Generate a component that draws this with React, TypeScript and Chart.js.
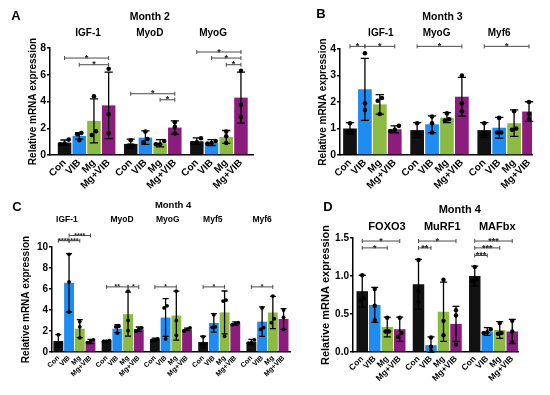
import React, { useEffect, useRef } from 'react';
import { Chart, registerables } from 'chart.js';
Chart.register(...registerables);

const GROUPS = ['Con', 'VIB', 'Mg', 'Mg+VIB'];
const COLORS = ['#121212', '#1F8CF2', '#8DBA42', '#8C1D7E'];
const FONT = '"Liberation Sans", Arial, sans-serif';
const Y_TITLE = 'Relative mRNA expression';

// ---- Panel A: Month 2 ----
const A_GENES = ['IGF-1', 'MyoD', 'MyoG'];
const A_MEANS = [[0.93, 1.43, 2.55, 3.71], [0.83, 1.3, 0.88, 2.05], [1.03, 0.93, 1.35, 4.29]];
const A_SD = [[0.19, 0.25, 1.65, 2.49], [0.35, 0.5, 0.27, 0.5], [0.25, 0.22, 0.48, 1.9]];
const A_POINTS = [
  [[1.15, 0.85, 0.8], [1.65, 1.1, 1.55], [4.38, 1.5, 1.78], [6.45, 3.05, 1.63]],
  [[1.1, 0.7, 0.7], [1.75, 0.95, 1.2], [1.05, 0.8, 0.8], [2.45, 2.1, 1.6]],
  [[1.25, 0.95, 0.9], [1.05, 0.9, 0.85], [1.75, 0.9, 1.4], [6.3, 3.75, 2.83]],
];
const A_SIG: [number, number, number, number, string][] = [
  [0, 0, 3, 7.25, '*'], [0, 1, 3, 6.75, '*'],
  [1, 0, 3, 4.58, '*'], [1, 2, 3, 4.13, '*'],
  [2, 0, 3, 7.7, '*'], [2, 1, 3, 7.25, '*'], [2, 2, 3, 6.75, '*'],
];

// ---- Panel B: Month 3 ----
const B_GENES = ['IGF-1', 'MyoG', 'Myf6'];
const B_MEANS = [[1.0, 2.48, 1.91, 0.97], [0.94, 1.16, 1.41, 2.2], [0.94, 1.03, 1.2, 1.64]];
const B_SD = [[0.22, 1.17, 0.37, 0.13], [0.28, 0.32, 0.19, 0.73], [0.28, 0.39, 0.5, 0.37]];
const B_POINTS = [
  [[1.2, 0.9, 0.9], [3.84, 1.95, 1.7], [2.15, 2.05, 1.55], [1.1, 0.95, 0.9]],
  [[1.2, 0.8, 0.8], [1.45, 0.85, 1.2], [1.57, 1.3, 1.35], [3.0, 1.95, 1.65]],
  [[1.2, 0.8, 0.8], [1.4, 0.85, 0.85], [1.65, 0.95, 1.0], [2.0, 1.55, 1.35]],
];
const B_SIG: [number, number, number, number, string][] = [
  [0, 0, 1, 4.1, '*'], [0, 1, 3, 4.1, '*'], [1, 0, 3, 4.1, '*'], [2, 0, 3, 4.1, '*'],
];

// ---- Panel C: Month 4 ----
const C_GENES = ['IGF-1', 'MyoD', 'MyoG', 'Myf5', 'Myf6'];
const C_MEANS = [
  [1.05, 6.59, 2.22, 1.0], [1.05, 2.22, 3.61, 2.16], [1.17, 3.28, 3.47, 2.16],
  [0.95, 2.77, 3.77, 2.7], [0.95, 2.89, 3.76, 3.15],
];
const C_SD = [
  [0.6, 2.78, 0.86, 0.2], [0.05, 0.38, 2.1, 0.22], [0.16, 1.8, 2.33, 0.12],
  [0.55, 0.88, 2.04, 0.16], [0.25, 1.4, 1.54, 0.99],
];
const C_POINTS = [
  [[1.65, 0.8, 0.7], [9.3, 6.67, 3.8], [2.9, 2.4, 1.35], [1.15, 1.0, 0.9]],
  [[1.08, 1.0, 1.02], [2.45, 2.4, 1.8], [5.8, 3.0, 2.03], [2.3, 2.15, 2.0]],
  [[1.25, 1.15, 1.1], [4.4, 4.2, 1.25], [5.8, 3.0, 1.59], [2.3, 2.15, 2.0]],
  [[1.45, 0.7, 0.7], [3.55, 2.4, 2.35], [4.95, 4.85, 1.5], [2.8, 2.7, 2.6]],
  [[1.15, 0.9, 0.85], [4.2, 2.32, 2.15], [5.33, 3.17, 2.79], [4.0, 3.3, 2.15]],
];
const C_SIG: [number, number, number, number, string][] = [
  [0, 0, 1, 10.6, '****'], [0, 1, 2, 10.6, '***'], [0, 1, 3, 11.1, '****'],
  [1, 0, 2, 6.2, '**'], [1, 2, 3, 6.2, '*'],
  [2, 0, 2, 6.2, '*'], [3, 0, 2, 6.2, '*'], [4, 0, 2, 6.2, '*'],
];

// ---- Panel D: Month 4 (atrophy genes) ----
const D_GENES = ['FOXO3', 'MuRF1', 'MAFbx'];
const D_MEANS = [[0.8, 0.62, 0.33, 0.3], [0.89, 0.09, 0.53, 0.37], [1.0, 0.27, 0.29, 0.27]];
const D_SD = [[0.21, 0.23, 0.13, 0.16], [0.33, 0.11, 0.39, 0.23], [0.13, 0.05, 0.11, 0.16]];
const D_POINTS = [
  [[1.01, 0.7, 0.68], [0.83, 0.42, 0.61], [0.45, 0.27, 0.27], [0.45, 0.25, 0.2]],
  [[1.21, 0.8, 0.66], [0.19, 0.07, 0.01], [0.95, 0.41, 0.22], [0.55, 0.48, 0.1]],
  [[1.12, 0.95, 0.93], [0.3, 0.26, 0.25], [0.38, 0.25, 0.24], [0.41, 0.27, 0.13]],
];
const D_SIG: [number, number, number, number, string][] = [
  [0, 0, 3, 1.46, '*'], [0, 0, 2, 1.37, '*'],
  [1, 0, 1, 1.37, '**'], [1, 0, 3, 1.46, '*'],
  [2, 0, 3, 1.46, '***'], [2, 0, 2, 1.37, '***'], [2, 0, 1, 1.27, '***'],
];

const PANELS = [
  {
    letter: 'A', title: 'Month 2', genes: A_GENES, means: A_MEANS, sd: A_SD, points: A_POINTS, sig: A_SIG,
    yMax: 8, yStep: 2, dec: 0,
    box: { left: 0, top: 0, w: 275, h: 195 }, pad: { l: 27, r: 22, t: 48 }, yW: 23, xH: 40,
    xMin: -0.99, xMax: 12.82, letterXY: [16, 16], titleXY: [5.8, 17], geneY: 33, geneX: [1.6, 5.8, 10.1],
    f: { tick: 10.5, xtick: 10, title: 10.5, gene: 10, ytitle: 10, star: 9 }, ptR: 2.3,
  },
  {
    letter: 'B', title: 'Month 3', genes: B_GENES, means: B_MEANS, sd: B_SD, points: B_POINTS, sig: B_SIG,
    yMax: 4, yStep: 1, dec: 0,
    box: { left: 275, top: 0, w: 275, h: 195 }, pad: { l: 42, r: 18, t: 49 }, yW: 23, xH: 40,
    xMin: -0.67, xMax: 12.2, letterXY: [46, 14], titleXY: [6.2, 17], geneY: 33, geneX: [2.07, 5.8, 10.0],
    f: { tick: 10.5, xtick: 10, title: 10.5, gene: 10, ytitle: 10, star: 9 }, ptR: 2.3,
  },
  {
    letter: 'C', title: 'Month 4', genes: C_GENES, means: C_MEANS, sd: C_SD, points: C_POINTS, sig: C_SIG,
    yMax: 10, yStep: 2, dec: 0,
    box: { left: 0, top: 195, w: 300, h: 200 }, pad: { l: 20, r: 10, t: 52 }, yW: 32, xH: 43,
    xMin: -0.59, xMax: 21.6, letterXY: [17, 12], titleXY: [10.7, 10], geneY: 25, geneX: [0.8, 5.94, 10.2, 14.4, 19.0],
    f: { tick: 10, xtick: 7, title: 9.5, gene: 8.5, ytitle: 10, star: 7 }, ptR: 1.9,
  },
  {
    letter: 'D', title: 'Month 4', genes: D_GENES, means: D_MEANS, sd: D_SD, points: D_POINTS, sig: D_SIG,
    yMax: 1.5, yStep: 0.5, dec: 1,
    box: { left: 300, top: 195, w: 250, h: 200 }, pad: { l: 19, r: 32, t: 43 }, yW: 34, xH: 43,
    xMin: -0.74, xMax: 12.46, letterXY: [28, 12], titleXY: [7.8, 15], geneY: 32, geneX: [1.98, 6.4, 10.8],
    f: { tick: 10, xtick: 8.5, title: 11, gene: 11, ytitle: 11, star: 9 }, ptR: 2.2,
  },
];

type PanelT = (typeof PANELS)[number];

const pos = (g: number, i: number) => g * 4.5 + i;

function spread(vals: number[], tol: number): number[] {
  const idx = vals.map((_, i) => i).sort((a, b) => vals[a] - vals[b]);
  const offs = vals.map(() => 0);
  let start = 0;
  for (let k = 1; k <= idx.length; k++) {
    if (k === idx.length || vals[idx[k]] - vals[idx[k - 1]] > tol) {
      const n = k - start;
      for (let j = start; j < k; j++) offs[idx[j]] = n > 1 ? (j - start - (n - 1) / 2) * 0.28 : 0;
      start = k;
    }
  }
  return offs;
}

function PanelChart({ p }: { p: PanelT }) {
  const ref = useRef<HTMLCanvasElement>(null);
  useEffect(() => {
    const canvas = ref.current!;
    const bars: { x: number; y: number }[] = [];
    const colors: string[] = [];
    const tickPos: number[] = [];
    p.means.forEach((row, g) =>
      row.forEach((m, i) => {
        bars.push({ x: pos(g, i), y: m });
        colors.push(COLORS[i]);
        tickPos.push(pos(g, i));
      })
    );
    const pts: { x: number; y: number }[] = [];
    p.points.forEach((row, g) =>
      row.forEach((vals, i) => {
        const offs = spread(vals, p.yMax * 0.04);
        vals.forEach((v, k) => pts.push({ x: pos(g, i) + offs[k], y: v }));
      })
    );

    const extras = {
      id: 'extras',
      afterDatasetDraw(chart: any, args: any) {
        if (args.index !== 0) return;
        const { ctx } = chart;
        const xs = chart.scales.x;
        const ys = chart.scales.y;
        const slot = xs.getPixelForValue(1) - xs.getPixelForValue(0);
        ctx.save();
        ctx.strokeStyle = '#000';
        ctx.lineWidth = 1.3;
        p.means.forEach((row, g) =>
          row.forEach((m, i) => {
            const x = xs.getPixelForValue(pos(g, i));
            const sd = p.sd[g][i];
            const top = ys.getPixelForValue(m + sd);
            const bot = ys.getPixelForValue(Math.max(0, m - sd));
            const cw = slot * 0.28;
            ctx.beginPath();
            ctx.moveTo(x, top);
            ctx.lineTo(x, bot);
            ctx.moveTo(x - cw, top);
            ctx.lineTo(x + cw, top);
            ctx.moveTo(x - cw, bot);
            ctx.lineTo(x + cw, bot);
            ctx.stroke();
          })
        );
        ctx.restore();
      },
      afterDraw(chart: any) {
        const { ctx } = chart;
        const xs = chart.scales.x;
        const ys = chart.scales.y;
        ctx.save();
        // significance brackets
        p.sig.forEach(([g, a, b, y, label]) => {
          const x1 = xs.getPixelForValue(pos(g, a));
          const x2 = xs.getPixelForValue(pos(g, b));
          const yy = ys.getPixelForValue(y);
          ctx.strokeStyle = '#4a4a4a';
          ctx.lineWidth = 1;
          ctx.beginPath();
          ctx.moveTo(x1, yy);
          ctx.lineTo(x2, yy);
          ctx.moveTo(x1, yy - 2);
          ctx.lineTo(x1, yy + 2);
          ctx.moveTo(x2, yy - 2);
          ctx.lineTo(x2, yy + 2);
          ctx.stroke();
          ctx.fillStyle = '#222';
          ctx.font = `bold ${p.f.star}px ${FONT}`;
          ctx.textAlign = 'center';
          ctx.textBaseline = 'alphabetic';
          ctx.fillText(label, (x1 + x2) / 2, yy + p.f.star * 0.3);
        });
        // titles
        ctx.fillStyle = '#000';
        ctx.textAlign = 'center';
        ctx.textBaseline = 'middle';
        ctx.font = `bold ${p.f.title}px ${FONT}`;
        ctx.fillText(p.title, xs.getPixelForValue(p.titleXY[0]), p.titleXY[1]);
        ctx.font = `bold ${p.f.gene}px ${FONT}`;
        p.genes.forEach((gname, g) => ctx.fillText(gname, xs.getPixelForValue(p.geneX[g]), p.geneY));
        ctx.font = `bold 13px ${FONT}`;
        ctx.fillText(p.letter, p.letterXY[0], p.letterXY[1]);
        ctx.restore();
      },
    };

    const chart = new Chart(canvas, {
      type: 'bar',
      data: {
        datasets: [
          {
            type: 'bar',
            data: bars as any,
            backgroundColor: colors,
            borderWidth: 0,
            barPercentage: 0.92,
            categoryPercentage: 1,
            order: 2,
          } as any,
          {
            type: 'scatter',
            data: pts as any,
            pointRadius: p.ptR,
            pointBackgroundColor: '#000',
            pointBorderWidth: 0,
            pointHoverRadius: p.ptR,
            order: 1,
          } as any,
        ],
      },
      options: {
        responsive: false,
        animation: false,
        events: [],
        layout: { padding: { left: p.pad.l, right: p.pad.r, top: p.pad.t, bottom: 0 } },
        plugins: { legend: { display: false }, tooltip: { enabled: false }, title: { display: false } },
        scales: {
          x: {
            type: 'linear',
            min: p.xMin,
            max: p.xMax,
            offset: false,
            grid: { display: false, drawTicks: false },
            border: { display: true, color: '#000', width: 1.5 },
            afterBuildTicks: (s: any) => {
              s.ticks = tickPos.map((v) => ({ value: v }));
            },
            afterFit: (s: any) => {
              s.height = p.xH;
            },
            ticks: {
              autoSkip: false,
              minRotation: 45,
              maxRotation: 45,
              padding: 2,
              color: '#000',
              font: { family: FONT, size: p.f.xtick, weight: 'bold' },
              callback: (_v: any, i: number) => GROUPS[i % 4],
            },
          } as any,
          y: {
            type: 'linear',
            min: 0,
            max: p.yMax,
            grid: { drawOnChartArea: false, drawTicks: true, tickLength: 3, color: '#000', lineWidth: 1.5 },
            border: { display: true, color: '#000', width: 1.5 },
            ticks: {
              stepSize: p.yStep,
              padding: 1,
              color: '#000',
              font: { family: FONT, size: p.f.tick, weight: 'bold' },
              callback: (v: any) => Number(v).toFixed(p.dec),
            },
            title: {
              display: true,
              text: Y_TITLE,
              color: '#000',
              font: { family: FONT, size: p.f.ytitle, weight: 'bold' },
              padding: { top: 0, bottom: 0 },
            },
            afterFit: (s: any) => {
              s.width = p.yW;
            },
          } as any,
        },
      },
      plugins: [extras as any],
    });
    return () => chart.destroy();
  }, []);
  return (
    <canvas
      ref={ref}
      width={p.box.w}
      height={p.box.h}
      style={{ position: 'absolute', left: p.box.left, top: p.box.top, width: p.box.w, height: p.box.h }}
    />
  );
}

export default function App() {
  return (
    <div style={{ position: 'absolute', left: 0, top: 0, width: 550, height: 395, background: '#fff', overflow: 'hidden' }}>
      {PANELS.map((p) => (
        <PanelChart key={p.letter} p={p} />
      ))}
    </div>
  );
}
